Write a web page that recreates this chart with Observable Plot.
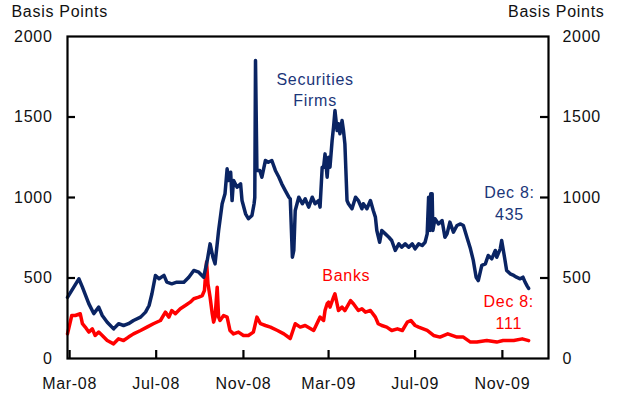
<!DOCTYPE html>
<html>
<head>
<meta charset="utf-8">
<script src="https://cdn.jsdelivr.net/npm/d3@7"></script>
<script src="https://cdn.jsdelivr.net/npm/@observablehq/plot@0.6"></script>
<style>
  html, body { margin: 0; padding: 0; background: #fff; }
</style>
</head>
<body>
<div id="chart"></div>
<script>
// Securities firms (basis points)
const secDates = ["2008-02-27","2008-03-14","2008-03-19","2008-03-28","2008-04-04","2008-04-11","2008-04-16","2008-04-23","2008-05-02","2008-05-09","2008-05-16","2008-05-23","2008-05-30","2008-06-09","2008-06-16","2008-06-21","2008-06-25","2008-06-30","2008-07-05","2008-07-12","2008-07-16","2008-07-23","2008-07-30","2008-08-09","2008-08-16","2008-08-23","2008-08-30","2008-09-06","2008-09-11","2008-09-15","2008-09-19","2008-09-22","2008-09-27","2008-10-02","2008-10-06","2008-10-09","2008-10-11","2008-10-14","2008-10-16","2008-10-18","2008-10-23","2008-10-28","2008-10-30","2008-11-04","2008-11-08","2008-11-13","2008-11-16","2008-11-17","2008-11-18","2008-11-20","2008-11-24","2008-11-27","2008-12-02","2008-12-06","2008-12-11","2008-12-16","2008-12-21","2008-12-25","2008-12-30","2009-01-04","2009-01-06","2009-01-09","2009-01-11","2009-01-13","2009-01-18","2009-01-23","2009-01-27","2009-02-01","2009-02-06","2009-02-10","2009-02-15","2009-02-17","2009-02-20","2009-02-22","2009-02-24","2009-02-27","2009-03-01","2009-03-03","2009-03-06","2009-03-08","2009-03-10","2009-03-13","2009-03-15","2009-03-17","2009-03-20","2009-03-22","2009-03-24","2009-03-27","2009-03-29","2009-04-03","2009-04-08","2009-04-12","2009-04-17","2009-04-19","2009-04-24","2009-04-29","2009-05-03","2009-05-06","2009-05-08","2009-05-12","2009-05-15","2009-05-20","2009-05-25","2009-05-29","2009-06-03","2009-06-08","2009-06-12","2009-06-17","2009-06-22","2009-06-27","2009-07-01","2009-07-06","2009-07-11","2009-07-15","2009-07-18","2009-07-20","2009-07-22","2009-07-23","2009-07-25","2009-07-26","2009-07-29","2009-08-03","2009-08-08","2009-08-12","2009-08-15","2009-08-19","2009-08-24","2009-08-29","2009-09-03","2009-09-07","2009-09-12","2009-09-17","2009-09-21","2009-09-25","2009-09-28","2009-10-03","2009-10-08","2009-10-12","2009-10-17","2009-10-22","2009-10-24","2009-10-29","2009-10-31","2009-11-04","2009-11-07","2009-11-12","2009-11-17","2009-11-21","2009-11-26","2009-11-30","2009-12-03","2009-12-06","2009-12-08"];
const secValues = [380,495,443,341,279,319,267,225,184,216,205,216,236,257,288,329,402,516,495,516,474,464,474,474,505,547,536,505,609,712,629,588,795,961,1023,1178,1106,1157,981,1106,1064,1085,981,899,868,888,961,1000,1851,1168,1168,1126,1230,1219,1230,1168,1126,1085,1043,1002,992,629,671,919,1002,961,992,940,1002,961,981,940,1188,1188,1271,1126,1250,1188,1354,1437,1540,1416,1458,1396,1478,1416,1333,981,961,930,1002,981,930,961,930,981,919,878,795,722,795,774,753,733,671,712,691,712,691,712,681,712,702,722,774,1002,795,1023,1023,795,868,836,857,753,774,847,785,826,836,826,753,681,609,505,484,578,588,640,619,671,629,681,733,629,547,526,516,505,495,505,474,450,435];

// Banks (basis points)
const bankDates = ["2008-02-27","2008-03-04","2008-03-09","2008-03-16","2008-03-19","2008-03-23","2008-03-28","2008-04-02","2008-04-06","2008-04-11","2008-04-16","2008-04-23","2008-05-02","2008-05-09","2008-05-16","2008-05-23","2008-05-30","2008-06-09","2008-06-18","2008-06-27","2008-07-07","2008-07-14","2008-07-19","2008-07-23","2008-07-28","2008-08-04","2008-08-11","2008-08-18","2008-08-23","2008-08-30","2008-09-04","2008-09-07","2008-09-10","2008-09-12","2008-09-15","2008-09-18","2008-09-20","2008-09-22","2008-09-25","2008-09-27","2008-09-29","2008-10-04","2008-10-09","2008-10-13","2008-10-18","2008-10-25","2008-11-01","2008-11-08","2008-11-15","2008-11-20","2008-11-25","2008-12-02","2008-12-09","2008-12-19","2008-12-28","2009-01-06","2009-01-13","2009-01-20","2009-01-27","2009-02-08","2009-02-17","2009-02-22","2009-02-24","2009-02-27","2009-03-01","2009-03-03","2009-03-08","2009-03-10","2009-03-15","2009-03-20","2009-03-24","2009-04-01","2009-04-05","2009-04-12","2009-04-17","2009-04-22","2009-04-29","2009-05-06","2009-05-10","2009-05-15","2009-05-22","2009-05-29","2009-06-06","2009-06-13","2009-06-20","2009-06-25","2009-07-01","2009-07-06","2009-07-18","2009-07-27","2009-08-05","2009-08-16","2009-08-29","2009-09-07","2009-09-17","2009-09-26","2009-10-10","2009-10-24","2009-11-02","2009-11-17","2009-11-29","2009-12-08"];
const bankValues = [153,267,267,278,216,195,164,184,143,164,143,112,91,122,112,133,153,174,195,216,236,288,257,298,278,309,329,350,371,381,391,422,600,464,381,278,226,257,443,257,236,267,257,174,153,164,143,143,164,257,216,205,195,174,153,124,216,195,205,174,257,236,298,340,350,319,381,402,298,319,298,360,340,298,309,288,298,257,216,205,195,174,184,174,226,236,205,195,174,143,133,153,133,133,102,102,112,102,112,112,122,111];

const xTicks = ["2008-03-01","2008-07-01","2008-11-01","2009-03-01","2009-07-01","2009-11-01"];
const yTicks = [500, 1000, 1500];
const yLabels = [0, 500, 1000, 1500, 2000];
const xDomain = ["2008-02-27", "2010-01-05"];
const yMax = 2000;

// annotation labels (text, date, value)
const noteTexts = ["Securities\nFirms", "Banks", "Dec 8:\n435", "Dec 8:\n111"];
const noteDates = ["2009-02-10", "2009-03-26", "2009-11-11", "2009-11-10"];
const noteValues = [1677, 525, 971, 295];
const noteColors = ["#1b3679", "#ff0000", "#1b3679", "#ff0000"];

const parse = (s) => new Date(s + "T00:00:00Z");
const sec = secDates.map((d, i) => ({date: parse(d), value: secValues[i]}));
const banks = bankDates.map((d, i) => ({date: parse(d), value: bankValues[i]}));
const notes = noteTexts.map((t, i) => ({text: t, date: parse(noteDates[i]), value: noteValues[i], color: noteColors[i]}));
const fmt = d3.utcFormat("%b-%y");
const yfmt = (d) => String(d);

const W = 621, H = 396, ML = 67, MR = 73, MT = 36, MB = 38;
const frameW = W - ML - MR, frameH = H - MT - MB, TICK = 8;
const [x0, x1] = xDomain.map(parse);
const xTickLen = (x1 - x0) * TICK / frameW;   // tick length in time units
const yTickLen = yMax * TICK / frameH;         // tick length in value units
const leftTickEnd = new Date(+x0 + xTickLen);
const rightTickStart = new Date(+x1 - xTickLen);

const chart = Plot.plot({
  width: W,
  height: H,
  marginLeft: ML,
  marginRight: MR,
  marginTop: MT,
  marginBottom: MB,
  style: {fontFamily: "'Liberation Sans', Arial, sans-serif", fontSize: "16px", letterSpacing: "0.7px", color: "#111", background: "#fff"},
  x: {type: "utc", domain: [x0, x1]},
  y: {domain: [0, yMax]},
  marks: [
    Plot.line(banks, {x: "date", y: "value", stroke: "#ff0000", strokeWidth: 3.5, strokeLinejoin: "round"}),
    Plot.line(sec, {x: "date", y: "value", stroke: "#0a2463", strokeWidth: 3.5, strokeLinejoin: "round"}),
    // inward tick marks
    Plot.ruleX(xTicks.map(parse), {x: (d) => d, y1: 0, y2: yTickLen, stroke: "#000", strokeWidth: 2.2}),
    Plot.ruleY(yTicks, {y: (d) => d, x1: x0, x2: leftTickEnd, stroke: "#000", strokeWidth: 2.2}),
    Plot.ruleY(yTicks, {y: (d) => d, x1: rightTickStart, x2: x1, stroke: "#000", strokeWidth: 2.2}),
    // tick labels
    Plot.axisX(xTicks.map(parse), {anchor: "bottom", tickSize: 0, tickPadding: 19, tickFormat: fmt, label: null, fontSize: 16, fill: "#111"}),
    Plot.axisY(yLabels, {anchor: "left", tickSize: 0, tickPadding: 15, tickFormat: yfmt, label: null, fontSize: 16, fill: "#111"}),
    Plot.axisY(yLabels, {anchor: "right", tickSize: 0, tickPadding: 14, tickFormat: yfmt, label: null, fontSize: 16, fill: "#111"}),
    Plot.frame({stroke: "#000", strokeWidth: 2.2}),
    Plot.text(notes, {x: "date", y: "value", text: "text", fill: "color", fontSize: 16, lineHeight: 1.35, textAnchor: "middle", lineAnchor: "middle"}),
    Plot.text(["Basis Points"], {frameAnchor: "top-left", textAnchor: "start", lineAnchor: "middle", dx: -56, dy: -25, fontSize: 16, fill: "#111"}),
    Plot.text(["Basis Points"], {frameAnchor: "top-right", textAnchor: "end", lineAnchor: "middle", dx: 56, dy: -25, fontSize: 16, fill: "#111"})
  ]
});
document.getElementById("chart").appendChild(chart);
</script>
</body>
</html>
